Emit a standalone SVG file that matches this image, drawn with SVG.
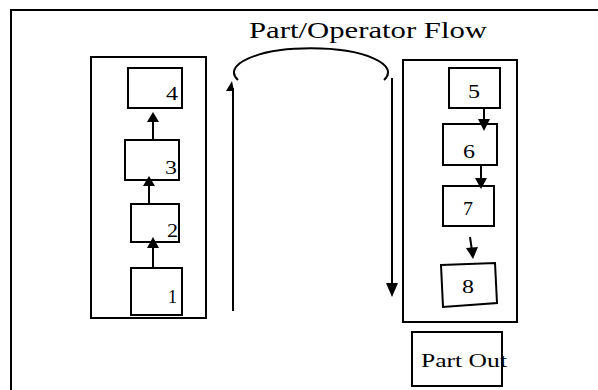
<svg xmlns="http://www.w3.org/2000/svg" width="598" height="390" viewBox="0 0 598 390">
<style>
.box{fill:#fff;stroke:#000;stroke-width:2}
.ln{fill:none;stroke:#000;stroke-width:2}
.head{fill:#000;stroke:none}
.t{font-family:"Liberation Serif","Times New Roman",serif;fill:#000}
.d{font-size:19px}
</style>
<rect width="598" height="390" fill="#fff"/>
<g id="frame">
<path class="ln" d="M11 390 V10 H598" stroke-width="2.2"/>
</g>
<text class="t" x="249" y="38" font-size="23" textLength="238" lengthAdjust="spacingAndGlyphs">Part/Operator Flow</text>
<g id="left-cell"><rect class="box" x="91" y="57" width="115" height="261"/></g>
<g id="right-cell"><rect class="box" x="403" y="60" width="114" height="262"/></g>
<g id="n4"><rect class="box" x="128" y="68" width="54" height="40"/><text class="t d" x="166" y="100" textLength="12" lengthAdjust="spacingAndGlyphs">4</text></g>
<g id="n3"><rect class="box" x="125" y="140" width="54" height="40"/><text class="t d" x="165" y="174" textLength="12" lengthAdjust="spacingAndGlyphs">3</text></g>
<g id="n2"><rect class="box" x="131" y="204" width="48" height="38"/><text class="t d" x="167" y="237" textLength="11" lengthAdjust="spacingAndGlyphs">2</text></g>
<g id="n1"><rect class="box" x="131" y="268" width="51" height="47"/><text class="t d" x="168" y="303" textLength="9" lengthAdjust="spacingAndGlyphs">1</text></g>
<g id="n5"><rect class="box" x="449" y="68" width="51" height="40"/><text class="t d" x="468" y="98" textLength="12" lengthAdjust="spacingAndGlyphs">5</text></g>
<g id="n6"><rect class="box" x="443" y="124" width="54" height="41"/><text class="t d" x="463" y="158" textLength="12" lengthAdjust="spacingAndGlyphs">6</text></g>
<g id="n7"><rect class="box" x="443" y="186" width="51" height="40"/><text class="t d" x="463" y="215" textLength="10" lengthAdjust="spacingAndGlyphs">7</text></g>
<g id="n8"><polygon class="box" points="441,265 495,263 497,303 443,307"/><text class="t d" x="462" y="293" textLength="12" lengthAdjust="spacingAndGlyphs">8</text></g>
<g id="part-out"><rect class="box" x="412" y="332" width="90" height="54"/><text class="t" x="421" y="367" font-size="19" textLength="86" lengthAdjust="spacingAndGlyphs">Part Out</text></g>
<g id="connectors">
<line class="ln" x1="153" y1="268" x2="153" y2="246"/><polygon class="head" points="153,237 147,248 159,248"/>
<line class="ln" x1="149" y1="204" x2="149" y2="184"/><polygon class="head" points="149,176 143,186 155,186"/>
<line class="ln" x1="153" y1="140" x2="153" y2="120"/><polygon class="head" points="153,112 147,122 159,122"/>
<line class="ln" x1="484" y1="108" x2="484" y2="122"/><polygon class="head" points="484,131 478,119 490,119"/>
<line class="ln" x1="481" y1="165" x2="481" y2="181"/><polygon class="head" points="481,189 475,178 487,178"/>
<line class="ln" x1="470" y1="237" x2="472" y2="251"/><polygon class="head" points="473,259 466,248 478,247"/>
<line class="ln" x1="392" y1="78" x2="392" y2="286"/><polygon class="head" points="392,297 386,283 398,283"/>
<line class="ln" x1="233" y1="311" x2="233" y2="88"/><polygon class="head" points="232,81 226,91 234,91"/>
<path class="ln" stroke-width="2.5" d="M238 80 A77 24 0 1 1 384 80"/>
</g>
</svg>
